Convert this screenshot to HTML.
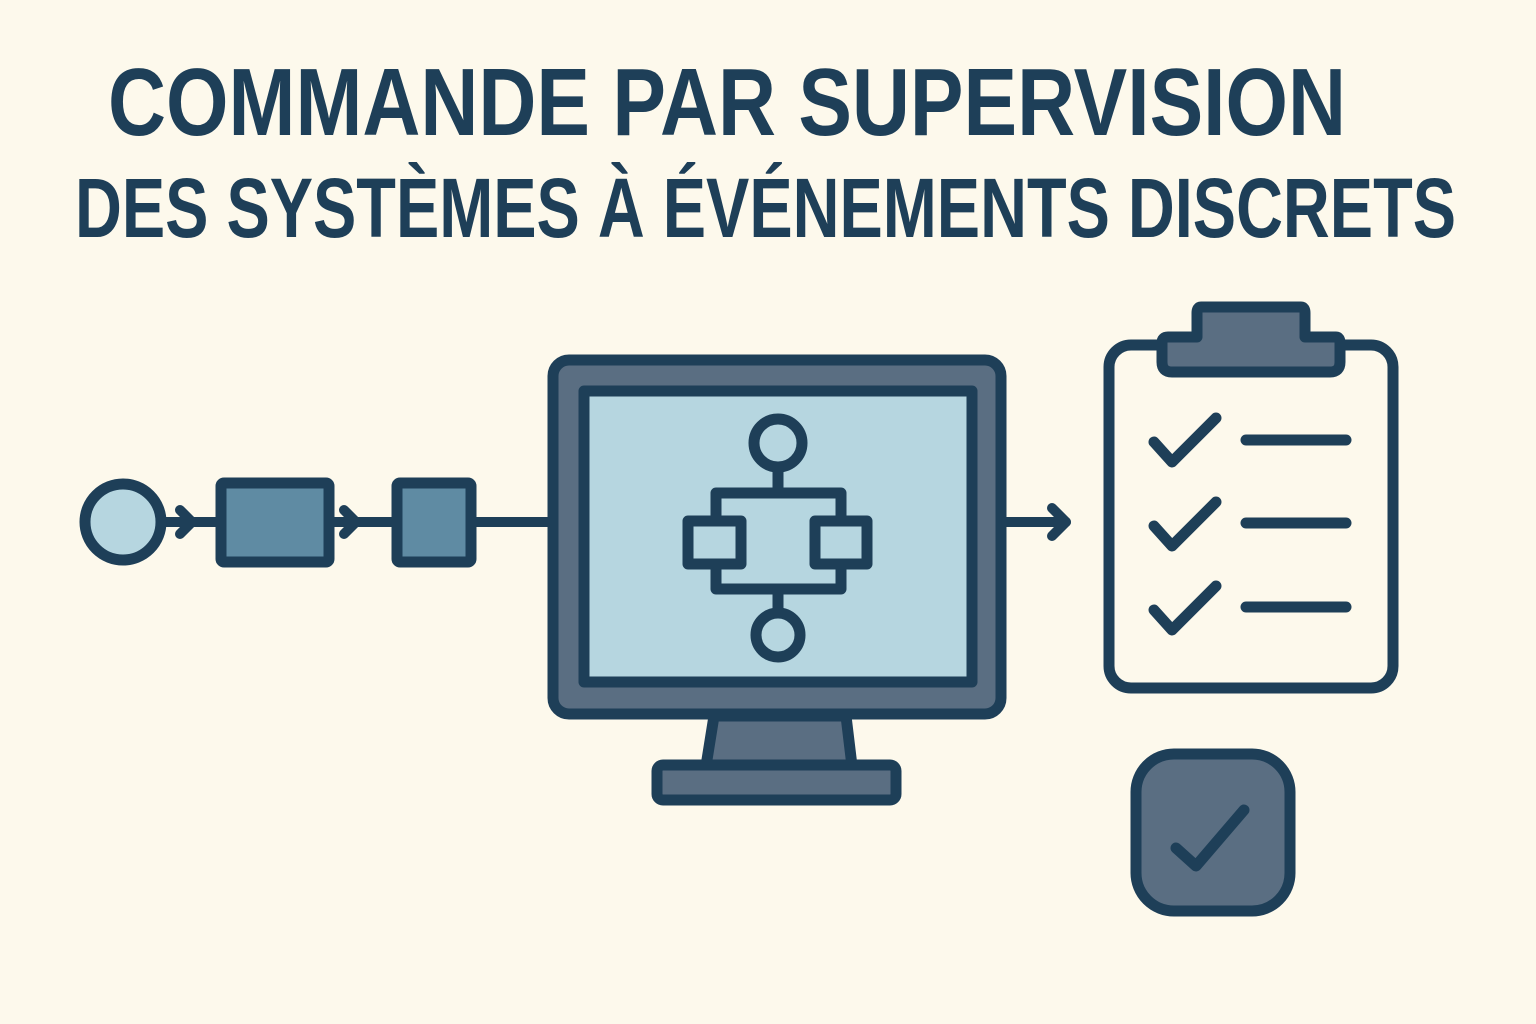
<!DOCTYPE html>
<html><head><meta charset="utf-8"><style>
html,body{margin:0;padding:0;background:#fdf9ec;}
svg{display:block;}
</style></head><body>
<svg width="1536" height="1024" viewBox="0 0 1536 1024" xmlns="http://www.w3.org/2000/svg">
<rect width="1536" height="1024" fill="#fdf9ec"/>
<g font-family="'Liberation Sans Narrow','Liberation Sans',sans-serif" font-weight="bold" fill="#1e3f58">
<text x="108" y="135" font-size="96" textLength="1238" lengthAdjust="spacingAndGlyphs">COMMANDE PAR SUPERVISION</text>
<text x="75" y="237" font-size="84" textLength="1381" lengthAdjust="spacingAndGlyphs">DES SYSTÈMES À ÉVÉNEMENTS DISCRETS</text>
</g>
<g stroke="#1e3f58" stroke-width="11" stroke-linejoin="round" stroke-linecap="round">
<!-- left chain -->
<line x1="160" y1="522" x2="548" y2="522" stroke-width="10"/>
<path d="M180 510 L192 522 L180 534" fill="none" stroke-width="10"/>
<path d="M344 510 L356 522 L344 534" fill="none" stroke-width="10"/>
<circle cx="123" cy="522" r="38" fill="#b6d6e0"/>
<rect x="221" y="483" width="108" height="79" rx="3" fill="#5f8ba3"/>
<rect x="397" y="483" width="74" height="79" rx="3" fill="#5f8ba3"/>
<!-- monitor -->
<path d="M714 716 L846 716 L852 766 L706 766 Z" fill="#5a6e82"/>
<rect x="657" y="765" width="239" height="35" rx="6" fill="#5a6e82"/>
<rect x="553" y="360" width="448" height="354" rx="16" fill="#5a6e82"/>
<rect x="584" y="391" width="388" height="291" fill="#b6d6e0"/>
<!-- flowchart -->
<circle cx="778" cy="443" r="24" fill="none"/>
<line x1="778" y1="467" x2="778" y2="493"/>
<rect x="716" y="493" width="125" height="96" fill="none"/>
<line x1="778" y1="589" x2="778" y2="613"/>
<circle cx="778" cy="635" r="22" fill="none"/>
<rect x="688" y="521" width="53" height="43" fill="#b6d6e0"/>
<rect x="815" y="521" width="52" height="43" fill="#b6d6e0"/>
<!-- arrow -->
<line x1="1006" y1="522" x2="1066" y2="522" stroke-width="10"/>
<path d="M1052 508 L1066 522 L1052 536" fill="none" stroke-width="10"/>
<!-- clipboard -->
<rect x="1109" y="345" width="284" height="343" rx="22" fill="#fdf9ec"/>
<path d="M1201 307 L1301 307 Q1305 307 1305 313 L1305 337 L1336 337 Q1340 337 1340 343 L1340 362 Q1340 372 1330 372 L1172 372 Q1162 372 1162 362 L1162 343 Q1162 337 1168 337 L1197 337 L1197 313 Q1197 307 1201 307 Z" fill="#5a6e82"/>
<g fill="none" stroke-width="11">
<path d="M1154 442 L1172 462 L1216 418"/>
<path d="M1154 526 L1172 546 L1216 502"/>
<path d="M1154 610 L1172 630 L1216 586"/>
<line x1="1246" y1="440" x2="1346" y2="440"/>
<line x1="1246" y1="523" x2="1346" y2="523"/>
<line x1="1246" y1="607" x2="1346" y2="607"/>
</g>
<!-- badge -->
<rect x="1136" y="754" width="154" height="157" rx="38" fill="#5a6e82"/>
<path d="M1176 848 L1196 866 L1244 810" fill="none" stroke-width="11"/>
</g>
</svg>
</body></html>
